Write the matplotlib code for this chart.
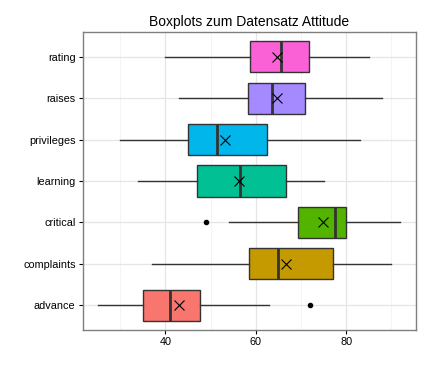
import matplotlib
matplotlib.use("Agg")
import matplotlib.pyplot as plt
from matplotlib.ticker import MultipleLocator

plt.rcParams['font.family'] = ['Liberation Sans', 'DejaVu Sans']

# Summary statistics of the attitude data set (bottom to top)
variables = ["advance", "complaints", "critical", "learning", "privileges", "raises", "rating"]
whisker_low = [25, 37, 54, 34, 30, 43, 40]
q1 = [35, 58.5, 69.25, 47, 45, 58.25, 58.75]
medians = [41, 65, 77.5, 56.5, 51.5, 63.5, 65.5]
q3 = [47.75, 77, 80, 66.75, 62.5, 71, 71.75]
whisker_high = [63, 90, 92, 75, 83, 88, 85]
means = [42.93, 66.6, 74.77, 56.37, 53.13, 64.63, 64.63]
outliers = [[72], [], [49], [], [], [], []]
colors = ["#F8766D", "#C49A00", "#53B400", "#00C094", "#00B6EB", "#A58AFF", "#FB61D7"]

fig = plt.figure(figsize=(4.3, 3.7), dpi=100)
ax = fig.add_axes([82.5 / 430, 1 - 330 / 370, 333 / 430, 298 / 370])

stats = []
for i, name in enumerate(variables):
    stats.append(dict(label=name, whislo=whisker_low[i], q1=q1[i], med=medians[i],
                      q3=q3[i], whishi=whisker_high[i], fliers=outliers[i], mean=means[i]))

positions = list(range(1, len(variables) + 1))
edge = "#333333"
bp = ax.bxp(stats, positions=positions, vert=False, widths=0.75, patch_artist=True,
            showmeans=True, showcaps=False,
            boxprops=dict(edgecolor=edge, linewidth=1.0),
            medianprops=dict(color=edge, linewidth=2.0),
            whiskerprops=dict(color=edge, linewidth=1.0),
            flierprops=dict(marker="o", markerfacecolor="black", markeredgecolor="black",
                            markersize=3, linestyle="none"),
            meanprops=dict(marker="x", markeredgecolor="black", markersize=7.5,
                           markeredgewidth=0.8))
for patch, c in zip(bp["boxes"], colors):
    patch.set_facecolor(c)
for ln in bp["means"] + bp["fliers"] + bp["boxes"] + bp["medians"] + bp["whiskers"]:
    ln.set_zorder(3)

ax.set_xlim(21.65, 95.35)
ax.set_ylim(0.4, 7.6)
ax.xaxis.set_major_locator(MultipleLocator(20))
ax.xaxis.set_minor_locator(MultipleLocator(10))
ax.set_yticks(positions)
ax.set_yticklabels(variables)
ax.grid(True, which="major", color="#E5E5E5", linewidth=0.9, zorder=0)
ax.grid(True, which="minor", axis="x", color="#F2F2F2", linewidth=0.6, zorder=0)
ax.set_axisbelow(True)
for s in ax.spines.values():
    s.set_color("#7F7F7F")
    s.set_linewidth(1.0)
ax.tick_params(axis="both", which="major", length=3, width=0.8, color="black",
               labelsize=7.8, labelcolor="black", pad=2)
ax.tick_params(axis="x", which="minor", length=0)
ax.set_title("Boxplots zum Datensatz Attitude", fontsize=10, pad=4)

fig.savefig("out.png", dpi=100)
